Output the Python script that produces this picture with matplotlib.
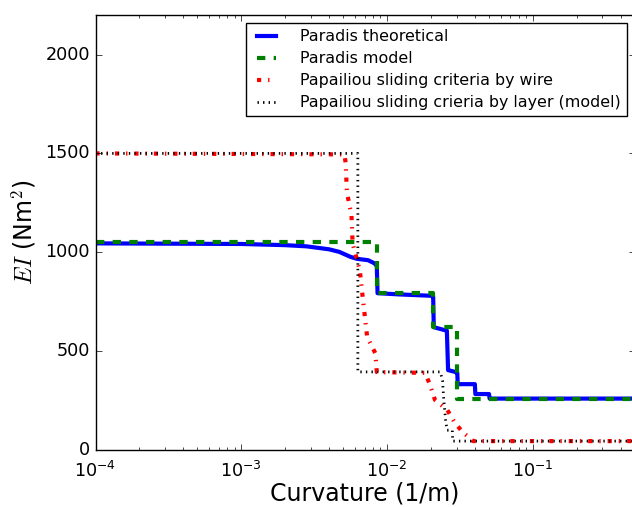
import matplotlib
matplotlib.use("Agg")
import matplotlib.pyplot as plt

plt.style.use('classic')
plt.rcParams['figure.facecolor'] = 'white'
plt.rcParams['savefig.facecolor'] = 'white'

# Paradis theoretical
theo_x = [1e-4, 1e-3, 2e-3, 2.8e-3, 4e-3, 4.7e-3, 5.6e-3, 6.2e-3, 7.4e-3, 8.2e-3, 0.0085,
          0.0086, 0.012, 0.020, 0.0207, 0.0209, 0.0249, 0.0257, 0.0262, 0.0293, 0.0303,
          0.0305, 0.0400, 0.0403, 0.0500, 0.0505, 0.5]
theo_y = [1045, 1042, 1036, 1030, 1015, 1002, 977, 967, 960, 944, 930,
          793, 787, 780, 775, 621, 606, 604, 404, 395, 390,
          333, 333, 283, 283, 260, 260]

# Paradis model
model_x = [1e-4, 0.0085, 0.0085, 0.0207, 0.0207, 0.0302, 0.0302, 0.5]
model_y = [1050, 1050, 795, 795, 621, 621, 260, 260]

# Papailiou by wire
wire_x = [1e-4, 0.0051, 0.0052, 0.0053, 0.0057, 0.0058, 0.0065, 0.0068, 0.0073, 0.0083, 0.0085,
          0.0182, 0.0197, 0.0203, 0.0213, 0.0259, 0.0290, 0.0330, 0.0390, 0.5]
wire_y = [1500, 1495, 1450, 1303, 1187, 1045, 909, 773, 571, 490, 394,
          390, 330, 300, 253, 202, 140, 90, 45, 45]

# Papailiou by layer (model)
layer_x = [1e-4, 0.0063, 0.0063, 0.0232, 0.0240, 0.0245, 0.0252, 0.0258, 0.0280, 0.0282, 0.5]
layer_y = [1500, 1500, 395, 395, 350, 250, 150, 100, 100, 45, 45]

labels = ['Paradis theoretical', 'Paradis model',
          'Papailiou sliding criteria by wire',
          'Papailiou sliding crieria by layer (model)']

fig = plt.figure(figsize=(6.32, 5.07), dpi=100)
ax = fig.add_axes([95.5 / 632, 57 / 507, 539.3 / 632, 435 / 507])

ax.semilogx(theo_x, theo_y, '-', color='blue', lw=3, label=labels[0])
ax.semilogx(model_x, model_y, '--', color='green', lw=3, label=labels[1])
ax.semilogx(wire_x, wire_y, '-.', color='red', lw=3, label=labels[2])
ax.semilogx(layer_x, layer_y, ':', color='black', lw=2, label=labels[3])

ax.set_xlim(1e-4, 0.5)
ax.set_ylim(0, 2200)
ax.set_yticks([0, 500, 1000, 1500, 2000])
ax.tick_params(labelsize=12.7)
ax.tick_params(axis='x', pad=8)
ax.set_xlabel('Curvature (1/m)', fontsize=17, labelpad=0)
ax.set_ylabel('$EI$ (Nm$^2$)', fontsize=17)

ax.legend(loc='upper right', fontsize=11.4, handlelength=1.8,
          handletextpad=1.2, labelspacing=0.44)

fig.savefig('out.png', dpi=100)
